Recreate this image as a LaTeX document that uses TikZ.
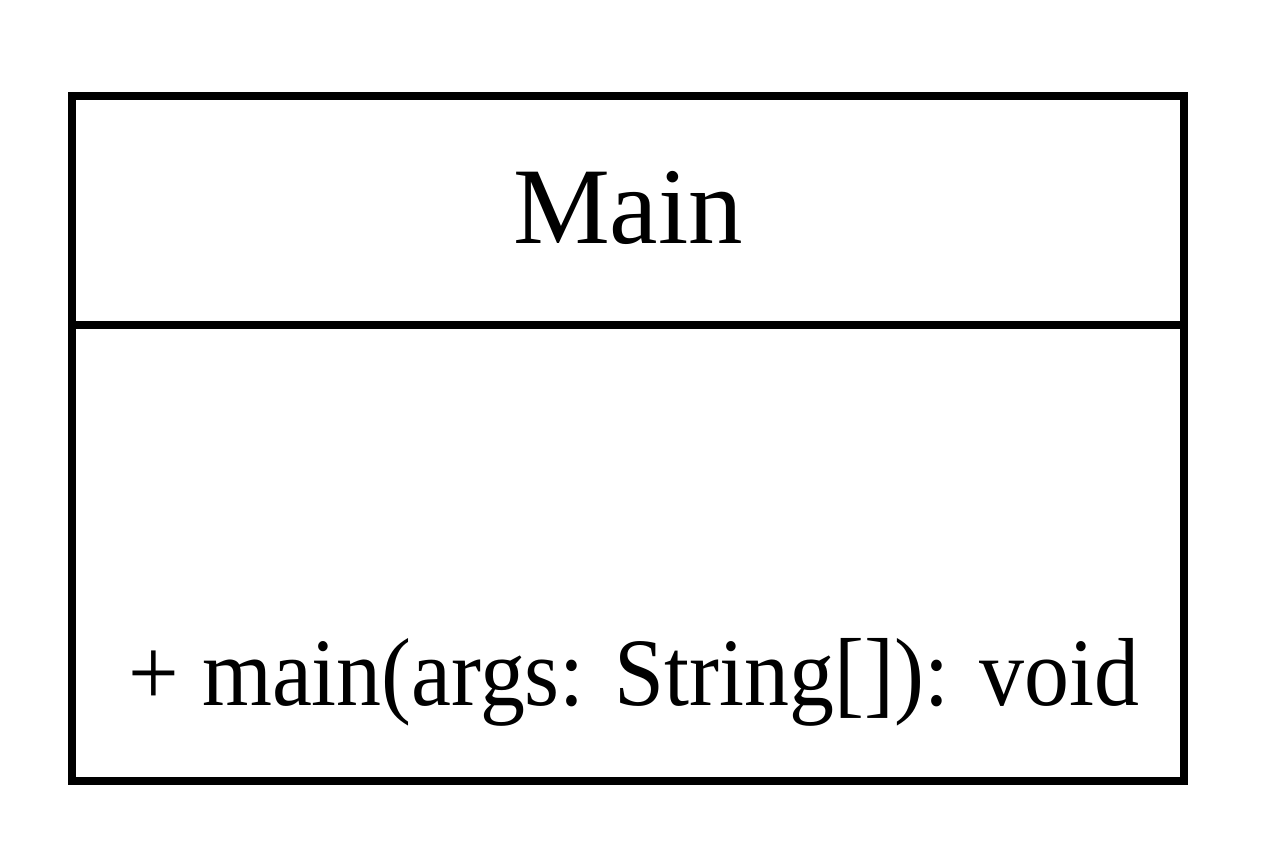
\documentclass[tikz,border=0pt]{standalone}
\usepackage{fontspec}
\setmainfont{Liberation Serif}
\newfontfamily\methodfont[FakeStretch=0.93]{Liberation Serif}
\begin{document}
\begin{tikzpicture}
	\tikzset{umlline/.style={line width=2.3pt}, umltext/.style={font=\fontsize{31}{36}\selectfont, inner sep=0pt}}
	\useasboundingbox (0,0) rectangle (12.8,8.53);
	\draw[umlline] (0.72,7.57) rectangle (11.84,0.72);
	\draw[umlline] (0.72,5.28) -- (11.84,5.28);
	\draw (6.28,6.10) node[umltext, anchor=base] (classname) {Main};
	\draw (6.34,1.48) node[umltext, anchor=base, font=\methodfont\fontsize{27.5}{32}\selectfont] (method) {+ main(args: String[]): void};
\end{tikzpicture}
\end{document}
